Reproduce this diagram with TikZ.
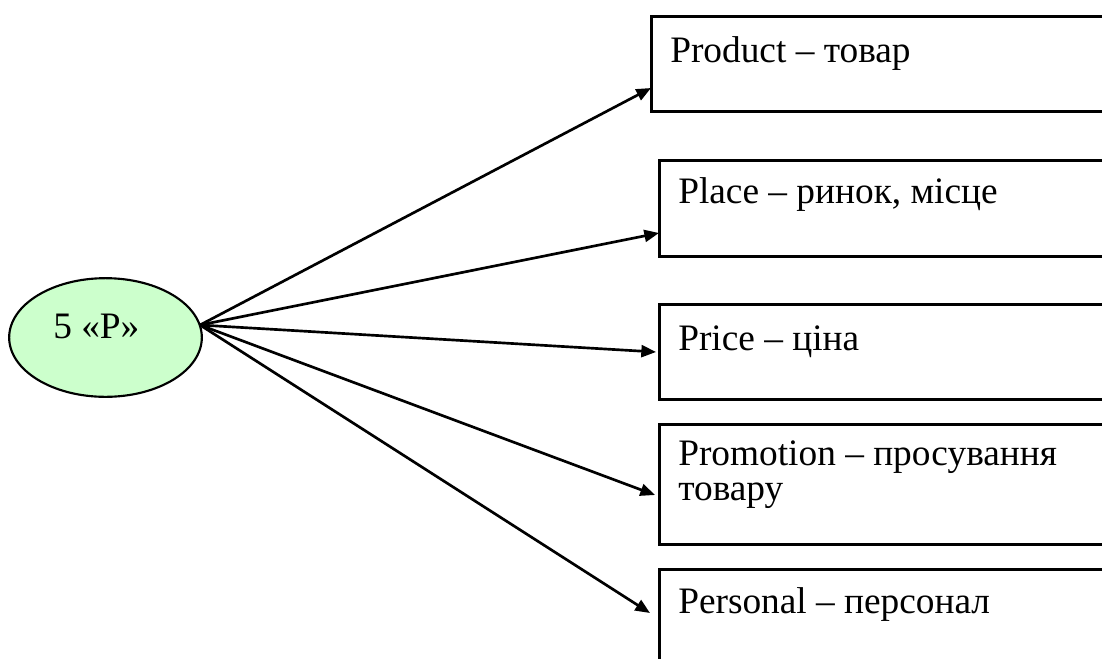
\documentclass[tikz,border=0pt]{standalone}
\usepackage{fontspec}
\setmainfont{Liberation Serif}
\usetikzlibrary{arrows.meta,shapes.geometric}
\definecolor{ovalgreen}{HTML}{CCFFCC}
\tikzset{
  framebox/.style={draw, line width=1.9pt, rectangle, anchor=north west,
    inner sep=0pt, minimum width=352pt},
  lbl/.style={anchor=base west, inner sep=0pt,
    font=\fontsize{28}{28}\selectfont},
  link/.style={line width=2pt, -{Triangle[length=11pt,width=9pt]}},
}
\begin{document}
\begin{tikzpicture}[x=0.75pt,y=-0.75pt]
\clip (0,0) rectangle (1102,658);
\fill[white] (0,0) rectangle (1102,658);

% central oval
\node[ellipse, draw, line width=1.6pt, fill=ovalgreen, inner sep=0pt,
      minimum width=144.5pt, minimum height=89pt] (hubnode) at (105.5,337.5) {};
\node[lbl] (hubtext) at (53,338) {5 «P»};
\coordinate (hub) at (200,325);

% the five boxes
\node[framebox, minimum height=71.25pt] (b1) at (650,15) {};
\node[framebox, minimum height=72pt]    (b2) at (658,159) {};
\node[framebox, minimum height=71.25pt] (b3) at (658,303) {};
\node[framebox, minimum height=90pt]    (b4) at (658,423) {};
\node[framebox, minimum height=80pt]    (b5) at (658,568) {};

\node[lbl] (l1) at (670,62)  {Product – товар};
\node[lbl] (l2) at (678,203) {Place – ринок, місце};
\node[lbl] (l3) at (678,350) {Price – ціна};
\node[lbl] (l4a) at (678,465) {Promotion – просування};
\node[lbl] (l4b) at (678,500) {товару};
\node[lbl] (l5) at (678,613) {Personal – персонал};

% arrow tips at the box edges
\coordinate (t1) at (651,88);
\coordinate (t2) at (659,233);
\coordinate (t3) at (656,352);
\coordinate (t4) at (655,495);
\coordinate (t5) at (650,613);

\foreach \t in {t1,t2,t3,t4,t5}
  \draw[link] (hub) -- (\t);
\end{tikzpicture}
\end{document}
